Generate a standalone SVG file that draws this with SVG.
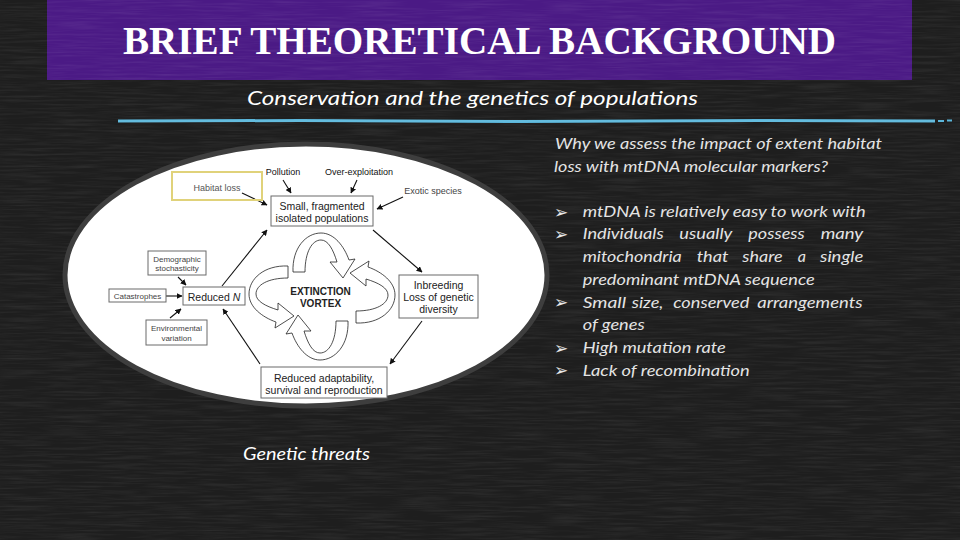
<svg xmlns="http://www.w3.org/2000/svg" width="960" height="540" viewBox="0 0 960 540">
<defs>
<filter id="chalk" x="0" y="0" width="100%" height="100%">
<feTurbulence type="fractalNoise" baseFrequency="0.02 0.5" numOctaves="3" seed="4" result="n"/>
<feColorMatrix in="n" type="matrix" values="0 0 0 0 1  0 0 0 0 1  0 0 0 0 1  0 0 0 0.5 -0.2"/>
</filter>
<marker id="ah" viewBox="0 0 10 10" refX="9" refY="5" markerWidth="6" markerHeight="6" orient="auto" markerUnits="userSpaceOnUse">
<path d="M0,0 L10,5 L0,10 z" fill="#111"/>
</marker>
<path id="vloop" d="M -27,-24 C -28,-48 -14,-63 1,-63 C 14,-63 24,-50 29,-36 L 35,-37 L 23,-18 L 10,-34 L 17,-34 C 13,-47 8,-56 1,-56 C -8,-56 -15,-44 -15,-24 Z"/>
<style>
.box{fill:#fff;stroke:#6a6a6a;stroke-width:1}
.t{font-family:"Liberation Sans",Arial,sans-serif;text-anchor:middle;fill:#222}
.big{font-size:10.5px}
.sm{font-size:8px;fill:#444}
.lbl{font-size:9px}
.con{stroke:#111;stroke-width:1.1;fill:none;marker-end:url(#ah)}
.vx{fill:#fff;stroke:#222;stroke-width:0.8}
.rt{font-family:Lato,"Open Sans","Liberation Sans",sans-serif;font-style:italic;font-size:16px;fill:#e4e4e4}
.bul{font-family:"DejaVu Sans",sans-serif;font-size:17px;fill:#e8e8e8}
</style>
</defs>

<!-- background -->
<rect x="0" y="0" width="960" height="540" fill="#1e1e1e"/>
<rect x="47" y="0" width="865" height="80" fill="#4b1a85"/>
<rect x="0" y="0" width="960" height="540" filter="url(#chalk)" opacity="0.28"/>

<g id="title">
<text x="123" y="54" textLength="713" lengthAdjust="spacingAndGlyphs" font-family="'Liberation Serif','Times New Roman',serif" font-weight="bold" font-size="39" fill="#fff">BRIEF THEORETICAL BACKGROUND</text>
</g>
<g id="subtitle">
<text x="247" y="105" textLength="451" lengthAdjust="spacingAndGlyphs" font-family="Lato,'Open Sans',sans-serif" font-style="italic" font-size="20" fill="#fff">Conservation and the genetics of populations</text>
<path d="M118,121 L300,120.5 L520,121.5 L760,120.5 L935,121" stroke="#5bb6da" stroke-width="3" fill="none"/>
<path d="M118,121 L935,121" stroke="#7ccbe8" stroke-width="1" fill="none" opacity="0.6"/>
<path d="M938,121 L944,121 M947,120.5 L952,120.5" stroke="#5bb6da" stroke-width="2" fill="none"/>
</g>

<!-- figure -->
<ellipse cx="306" cy="275" rx="241" ry="131" fill="#fff" stroke="#3e3e3e" stroke-width="5"/>

<g id="connectors">
<line class="con" x1="242" y1="193" x2="267" y2="205"/>
<line class="con" x1="283" y1="180" x2="291" y2="193"/>
<line class="con" x1="357" y1="180" x2="351" y2="193"/>
<line class="con" x1="403" y1="197" x2="377" y2="209"/>
<line class="con" x1="373" y1="230" x2="422" y2="272"/>
<line class="con" x1="422" y1="321" x2="390" y2="364"/>
<line class="con" x1="260" y1="364" x2="223" y2="309"/>
<line class="con" x1="222" y1="286" x2="267" y2="230"/>
<line class="con" x1="166" y1="296" x2="182" y2="296"/>
<line class="con" x1="178" y1="277" x2="186" y2="285"/>
<line class="con" x1="170" y1="318" x2="181" y2="309"/>
</g>

<g id="vortex">
<use href="#vloop" class="vx" transform="translate(320,296)"/>
<use href="#vloop" class="vx" transform="matrix(0,-1,-1,0,332,296)"/>
<use href="#vloop" class="vx" transform="matrix(-1,0,0,-1,321,297)"/>
<use href="#vloop" class="vx" transform="matrix(0,1,1,0,312,293)"/>
<text class="t" x="320.5" y="295" font-size="10" font-weight="bold">EXTINCTION</text>
<text class="t" x="320.5" y="307" font-size="10" font-weight="bold">VORTEX</text>
</g>

<g id="habitat-loss">
<rect x="172" y="172" width="90" height="28" fill="none" stroke="#e0d27a" stroke-width="2"/>
<text class="t lbl" x="217" y="191" style="fill:#555">Habitat loss</text>
</g>
<g id="pollution">
<text class="t lbl" x="283" y="175" style="fill:#111">Pollution</text>
</g>
<g id="over-exploitation">
<text class="t lbl" x="359" y="175" style="fill:#111">Over-exploitation</text>
</g>
<g id="exotic-species">
<text class="t lbl" x="433" y="194" style="fill:#444">Exotic species</text>
</g>
<g id="small-populations">
<rect class="box" x="271" y="196" width="102" height="30"/>
<text class="t big" x="322" y="209.5">Small, fragmented</text>
<text class="t big" x="322" y="221.5">isolated populations</text>
</g>
<g id="inbreeding">
<rect class="box" x="399" y="275" width="79" height="43"/>
<text class="t big" x="438.5" y="289">Inbreeding</text>
<text class="t big" x="438.5" y="301">Loss of genetic</text>
<text class="t big" x="438.5" y="313">diversity</text>
</g>
<g id="reduced-adaptability">
<rect class="box" x="261" y="367" width="126" height="31"/>
<text class="t big" x="324" y="381.5">Reduced adaptability,</text>
<text class="t big" x="324" y="393.5">survival and reproduction</text>
</g>
<g id="reduced-n">
<rect class="box" x="183" y="287" width="62" height="18"/>
<text class="t big" x="214" y="300.5">Reduced <tspan font-style="italic">N</tspan></text>
</g>
<g id="catastrophes">
<rect class="box" x="109" y="289" width="57" height="13"/>
<text class="t sm" x="137.5" y="298.8">Catastrophes</text>
</g>
<g id="demographic">
<rect class="box" x="148" y="251" width="58" height="24"/>
<text class="t sm" x="177" y="261.8">Demographic</text>
<text class="t sm" x="177" y="270.5">stochasticity</text>
</g>
<g id="environmental">
<rect class="box" x="146" y="320" width="61" height="25"/>
<text class="t sm" x="176.5" y="330.8">Environmental</text>
<text class="t sm" x="176.5" y="340.8">variation</text>
</g>

<g id="caption">
<text x="243" y="460" font-family="Lato,'Open Sans',sans-serif" font-style="italic" font-size="18" fill="#fff" textLength="127" lengthAdjust="spacingAndGlyphs">Genetic threats</text>
</g>

<g id="right-text">
<text class="rt" x="555" y="149" textLength="327" lengthAdjust="spacingAndGlyphs">Why we assess the impact of extent habitat</text>
<text class="rt" x="554" y="171.5" textLength="274" lengthAdjust="spacingAndGlyphs">loss with mtDNA molecular markers?</text>

<text class="bul" x="554" y="217.5">➢</text>
<text class="bul" x="554" y="240.2">➢</text>
<text class="bul" x="554" y="308.3">➢</text>
<text class="bul" x="554" y="353.7">➢</text>
<text class="bul" x="554" y="376.4">➢</text>

<text class="rt" x="582.7" y="216.7" textLength="283" lengthAdjust="spacingAndGlyphs">mtDNA is relatively easy to work with</text>
<text class="rt" y="239.4"><tspan x="582.7" textLength="81" lengthAdjust="spacingAndGlyphs">Individuals</tspan><tspan x="679.3" textLength="53" lengthAdjust="spacingAndGlyphs">usually</tspan><tspan x="748.3" textLength="56.5" lengthAdjust="spacingAndGlyphs">possess</tspan><tspan x="820.7" textLength="42.6" lengthAdjust="spacingAndGlyphs">many</tspan></text>
<text class="rt" y="262.1"><tspan x="582.7" textLength="99" lengthAdjust="spacingAndGlyphs">mitochondria</tspan><tspan x="696.7" textLength="31.7" lengthAdjust="spacingAndGlyphs">that</tspan><tspan x="742.3" textLength="40.3" lengthAdjust="spacingAndGlyphs">share</tspan><tspan x="797.7">a</tspan><tspan x="820" textLength="43.3" lengthAdjust="spacingAndGlyphs">single</tspan></text>
<text class="rt" x="582.7" y="284.8" textLength="232" lengthAdjust="spacingAndGlyphs">predominant mtDNA sequence</text>
<text class="rt" y="307.5"><tspan x="582.7" textLength="43.3" lengthAdjust="spacingAndGlyphs">Small</tspan><tspan x="631.7" textLength="31.7" lengthAdjust="spacingAndGlyphs">size,</tspan><tspan x="673.3" textLength="76" lengthAdjust="spacingAndGlyphs">conserved</tspan><tspan x="757.3" textLength="105.3" lengthAdjust="spacingAndGlyphs">arrangements</tspan></text>
<text class="rt" x="582.7" y="330.2" textLength="62" lengthAdjust="spacingAndGlyphs">of genes</text>
<text class="rt" x="582.7" y="352.9" textLength="143" lengthAdjust="spacingAndGlyphs">High mutation rate</text>
<text class="rt" x="582.7" y="375.6" textLength="167" lengthAdjust="spacingAndGlyphs">Lack of recombination</text>
</g>
</svg>
